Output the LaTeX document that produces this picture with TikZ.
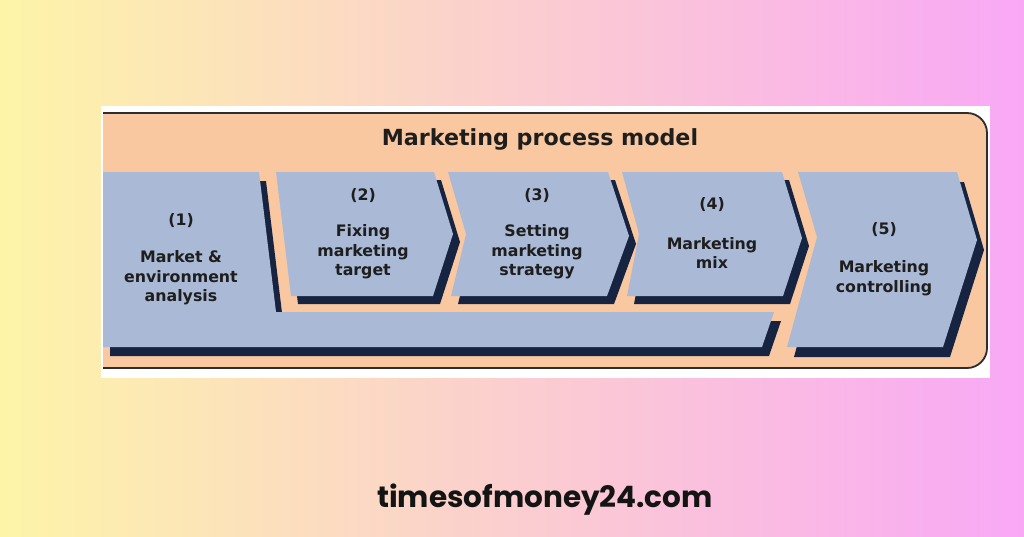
\documentclass[tikz,border=0pt]{standalone}
\usepackage{fontspec}
\setmainfont{DejaVu Sans}
\newfontfamily\webfont{Poppins}
\definecolor{bgyellow}{RGB}{253,244,168}
\definecolor{bgmid}{RGB}{252,212,206}
\definecolor{bgpink}{RGB}{249,168,246}
\definecolor{peach}{RGB}{250,200,160}
\definecolor{boxblue}{RGB}{170,186,214}
\definecolor{navy}{RGB}{22,36,66}
\definecolor{framegray}{RGB}{45,45,45}
\definecolor{txt}{RGB}{30,30,30}
\tikzset{
  lightbox/.style={fill=boxblue, draw=none},
  shadowbox/.style={fill=navy, draw=none},
  numtext/.style={font=\bfseries\fontsize{15.8}{19.5}\selectfont, text=txt, inner sep=0pt},
  labtext/.style={font=\bfseries\fontsize{15.8}{19.5}\selectfont, text=txt, inner sep=0pt, align=center},
}
\begin{document}
\begin{tikzpicture}[x=1pt,y=-1pt]
\useasboundingbox (0,0) rectangle (1024,536);
% background gradient
\shade[left color=bgyellow, middle color=bgmid, right color=bgpink] (0,0) rectangle (1024,536);
% white panel
\fill[white] (101,106) rectangle (990,378);
% frame
\fill[peach] (103,113) -- (967,113) arc[start angle=-90, end angle=0, radius=20] -- (987,348) arc[start angle=0, end angle=90, radius=20] -- (103,368) -- cycle;
\draw[framegray, line width=1.8pt] (103,113) -- (967,113) arc[start angle=-90, end angle=0, radius=20] -- (987,348) arc[start angle=0, end angle=90, radius=20] -- (103,368);
% title
\node[font=\bfseries\fontsize{22.2}{26}\selectfont, text=txt, inner sep=0pt] (title) at (540,139) {Marketing process model};

% shape 1 (L-shaped)
\fill[shadowbox] (110,181) -- (266,181) -- (283,321) -- (781,321) -- (769,356) -- (110,356) -- cycle;
\fill[lightbox] (103,172) -- (259,172) -- (276,312) -- (774,312) -- (762,347) -- (103,347) -- cycle;
% shape 2
\fill[shadowbox] (283,180) -- (441,180) -- (460,242) -- (440,304) -- (298,304) -- cycle;
\fill[lightbox] (276,172) -- (434,172) -- (453,234) -- (433,296) -- (291,296) -- cycle;
% shape 3
\fill[shadowbox] (455,180) -- (615,180) -- (636,244) -- (614,304) -- (458,304) -- (473,242) -- cycle;
\fill[lightbox] (448,172) -- (608,172) -- (629,236) -- (607,296) -- (451,296) -- (466,234) -- cycle;
% shape 4
\fill[shadowbox] (629,180) -- (789,180) -- (809,246) -- (790,304) -- (634,304) -- (646,242) -- cycle;
\fill[lightbox] (622,172) -- (782,172) -- (802,238) -- (783,296) -- (627,296) -- (639,234) -- cycle;
% shape 5
\fill[shadowbox] (805,182) -- (964,182) -- (984,250) -- (950,357) -- (794,357) -- (824,247) -- cycle;
\fill[lightbox] (798,172) -- (957,172) -- (977,240) -- (943,347) -- (787,347) -- (817,237) -- cycle;

% texts
\node[numtext] (n1) at (181,221) {(1)};
\node[labtext] (l1) at (181,278) {Market \&\\environment\\analysis};
\node[numtext] (n2) at (363,196) {(2)};
\node[labtext] (l2) at (363,252) {Fixing\\marketing\\target};
\node[numtext] (n3) at (537,196) {(3)};
\node[labtext] (l3) at (537,252) {Setting\\marketing\\strategy};
\node[numtext] (n4) at (712,205) {(4)};
\node[labtext] (l4) at (712,253) {Marketing\\mix};
\node[numtext] (n5) at (884,230) {(5)};
\node[labtext] (l5) at (884,278) {Marketing\\controlling};

% website
\node[font=\webfont\bfseries\fontsize{29.5}{34}\selectfont, text=black!92, inner sep=0pt] (web) at (545,500) {timesofmoney24.com};
\end{tikzpicture}
\end{document}
